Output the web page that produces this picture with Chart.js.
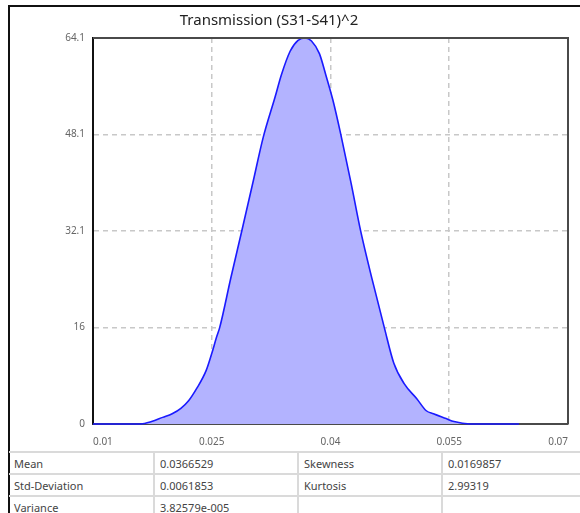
<!DOCTYPE html>
<html>
<head>
<meta charset="utf-8">
<title>Transmission (S31-S41)^2</title>
<script src="https://cdn.jsdelivr.net/npm/chart.js@4/dist/chart.umd.min.js"></script>
<style>
  body { margin: 0; background: #fff; width: 580px; height: 513px; overflow: hidden; position: relative; font-family: "Noto Sans", sans-serif; }
  #frame { position: absolute; left: 8px; top: 5px; width: 600px; height: 600px; border-left: 2px solid #111; border-top: 2px solid #111; }
  #chart { position: absolute; left: 0; top: 0; }
  #title { position: absolute; left: 0; top: 9px; width: 538px; text-align: center; font-size: 15px; line-height: 20px; color: #222; }
  #stats { position: absolute; left: 9px; top: 451px; border-collapse: collapse; table-layout: fixed; width: 640px; font-size: 11px; color: #444; }
  #stats td { border: 2px solid #dadada; height: 20px; padding: 0 0 0 5px; white-space: nowrap; }
  #stats td:first-child { border-left: none; }
</style>
</head>
<body>
<div id="frame"></div>
<canvas id="chart" width="580" height="450"></canvas>
<div id="title">Transmission (S31-S41)^2</div>
<table id="stats">
  <colgroup><col style="width:145px"><col style="width:144px"><col style="width:144px"><col style="width:207px"></colgroup>
  <tr><td>Mean</td><td>0.0366529</td><td>Skewness</td><td>0.0169857</td></tr>
  <tr><td>Std-Deviation</td><td>0.0061853</td><td>Kurtosis</td><td>2.99319</td></tr>
  <tr><td>Variance</td><td>3.82579e-005</td><td></td><td></td></tr>
</table>
<script>
// distribution
var xValues = [0.0100, 0.0160, 0.0174, 0.0188, 0.0200, 0.0211, 0.0221, 0.0231, 0.0243, 0.0250,
               0.0256, 0.0260, 0.0274, 0.0288, 0.0302, 0.0315, 0.0330, 0.0338, 0.0349, 0.0359,
               0.0368, 0.0376, 0.0386, 0.0394, 0.0403, 0.0413, 0.0426, 0.0438, 0.0453, 0.0468,
               0.0480, 0.0493, 0.0509, 0.0521, 0.0530, 0.0546, 0.0556, 0.0576, 0.0638];
var densityValues = [0, 0, 0.4, 1.1, 1.7, 2.6, 3.9, 5.9, 8.9, 11.7,
                     14.4, 16.0, 24.2, 32.1, 40.1, 47.6, 54.3, 58.0, 61.9, 63.7,
                     64.1, 63.6, 61.5, 58.0, 53.8, 48.1, 40.0, 32.1, 23.8, 16.0,
                     10.1, 6.7, 4.2, 2.2, 1.7, 0.9, 0.4, 0, 0];
var xTicks = [0.01, 0.025, 0.04, 0.055, 0.07];
var yTicks = [0, 16, 32.1, 48.1, 64.1];

var tickFont = { family: "'Noto Sans', sans-serif", size: 10 };

// top and right edges of the plot box
var boxEdges = {
    id: 'boxEdges',
    afterDatasetsDraw: function (chart) {
        var a = chart.chartArea, ctx = chart.ctx;
        ctx.save();
        ctx.strokeStyle = '#4a4a4a';
        ctx.lineWidth = 2;
        ctx.beginPath();
        ctx.moveTo(a.left, a.top);
        ctx.lineTo(a.right, a.top);
        ctx.lineTo(a.right, a.bottom);
        ctx.stroke();
        ctx.restore();
    }
};

function innerGrid(ticks) {
    return function (c) {
        if (!c.tick) return 'transparent';
        var v = c.tick.value;
        return (v === ticks[0] || v === ticks[ticks.length - 1]) ? 'transparent' : '#c8c8c8';
    };
}

new Chart(document.getElementById('chart'), {
    type: 'line',
    data: {
        datasets: [{
            data: xValues.map(function (x, i) { return { x: x, y: densityValues[i] }; }),
            borderColor: '#1a1aff',
            borderWidth: 1.6,
            backgroundColor: '#b3b3ff',
            fill: 'origin',
            pointRadius: 0,
            cubicInterpolationMode: 'monotone',
            clip: 3
        }]
    },
    options: {
        responsive: false,
        animation: false,
        events: [],
        layout: { padding: { left: 0, right: 9, top: 38, bottom: 0 } },
        plugins: { legend: { display: false }, tooltip: { enabled: false } },
        scales: {
            x: {
                type: 'linear',
                min: 0.01,
                max: 0.07,
                afterBuildTicks: function (s) { s.ticks = xTicks.map(function (v) { return { value: v }; }); },
                afterFit: function (s) { s.height = 26; },
                grid: { color: innerGrid(xTicks), lineWidth: 1.5, drawTicks: false },
                border: { color: '#4a4a4a', width: 2, dash: [5, 4] },
                ticks: { align: 'inner', padding: 12, color: '#666', font: tickFont, maxRotation: 0,
                         callback: function (v) { return String(v); } }
            },
            y: {
                min: 0,
                max: 64.1,
                afterBuildTicks: function (s) { s.ticks = yTicks.map(function (v) { return { value: v }; }); },
                afterFit: function (s) { s.width = 93; },
                grid: { color: innerGrid(yTicks), lineWidth: 1.5, drawTicks: false },
                border: { color: '#111', width: 2, dash: [5, 4] },
                ticks: { padding: 8, color: '#666', font: tickFont,
                         callback: function (v) { return String(v); } }
            }
        }
    },
    plugins: [boxEdges]
});
</script>
</body>
</html>
